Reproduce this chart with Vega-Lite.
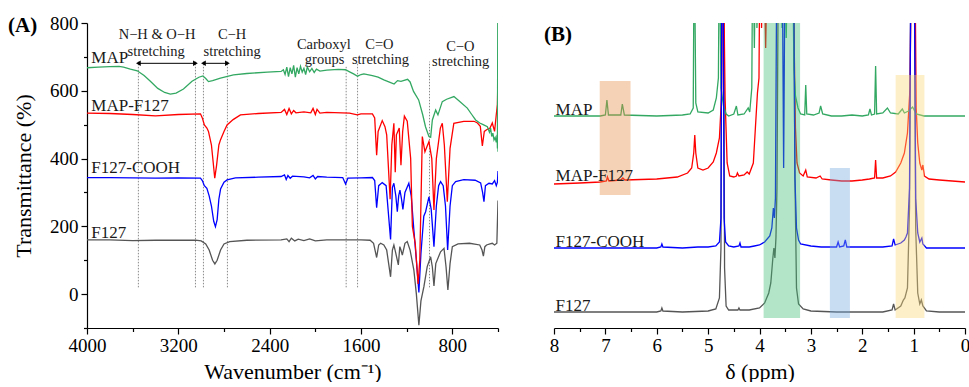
{
"$schema": "https://vega.github.io/schema/vega-lite/v6.json",
"background": "white",
"padding": {"left": 8, "top": 14, "right": 0, "bottom": 0},
"spacing": 45,
"config": {
  "font": "Liberation Serif",
  "view": {"stroke": null},
  "axis": {"domainColor": "black", "tickColor": "black", "labelColor": "black", "titleColor": "black", "labelFont": "Liberation Serif", "titleFont": "Liberation Serif", "titleFontWeight": "normal", "labelFontSize": 19, "titleFontSize": 22, "grid": false, "domainWidth": 1.2, "tickWidth": 1.2, "labelFlush": false, "labelOverlap": false},
  "title": {"font": "Liberation Serif", "color": "black"}
},
"datasets": {
  "vlines": [{"w": 3550, "t": 20, "t2": 686}, {"w": 3050, "t": 20, "t2": 686}, {"w": 2980, "t": 20, "t2": 686}, {"w": 2770, "t": 20, "t2": 686}, {"w": 1730, "t": 20, "t2": 672}, {"w": 1630, "t": 20, "t2": 682}, {"w": 1000, "t": 20, "t2": 686}],
  "arrows": [{"w": 3550, "w2": 3050, "t": 681}, {"w": 2980, "w2": 2770, "t": 681}],
  "labA": [{"label": "MAP", "w": 3962, "t": 681}, {"label": "MAP-F127", "w": 3962, "t": 540}, {"label": "F127-COOH", "w": 3962, "t": 357}, {"label": "F127", "w": 3962, "t": 167}],
  "annA": [
    {"label": "N−H & O−H", "w": 3386, "t": 752}, {"label": "stretching", "w": 3394, "t": 703},
    {"label": "C−H", "w": 2729, "t": 752}, {"label": "stretching", "w": 2729, "t": 703},
    {"label": "Carboxyl", "w": 1925, "t": 723}, {"label": "groups", "w": 1919, "t": 680},
    {"label": "C=O", "w": 1439, "t": 723}, {"label": "stretching", "w": 1429, "t": 680},
    {"label": "C−O", "w": 730, "t": 716}, {"label": "stretching", "w": 727, "t": 672}
  ],
  "specA": [
    {"s":"F127","w":4000,"t":160},{"s":"F127","w":3800,"t":160},{"s":"F127","w":3600,"t":158},{"s":"F127","w":3400,"t":159},{"s":"F127","w":3200,"t":159},{"s":"F127","w":3050,"t":159},{"s":"F127","w":3000,"t":157},{"s":"F127","w":2960,"t":148},{"s":"F127","w":2930,"t":130},{"s":"F127","w":2900,"t":100},{"s":"F127","w":2880,"t":89},{"s":"F127","w":2860,"t":100},{"s":"F127","w":2830,"t":130},{"s":"F127","w":2800,"t":148},{"s":"F127","w":2750,"t":155},{"s":"F127","w":2600,"t":159},{"s":"F127","w":2300,"t":160},{"s":"F127","w":2250,"t":163},{"s":"F127","w":2230,"t":155},{"s":"F127","w":2210,"t":165},{"s":"F127","w":2180,"t":157},{"s":"F127","w":2150,"t":162},{"s":"F127","w":2100,"t":158},{"s":"F127","w":2050,"t":163},{"s":"F127","w":2000,"t":157},{"s":"F127","w":1900,"t":160},{"s":"F127","w":1800,"t":160},{"s":"F127","w":1700,"t":160},{"s":"F127","w":1600,"t":160},{"s":"F127","w":1520,"t":159},{"s":"F127","w":1490,"t":150},{"s":"F127","w":1463,"t":108},{"s":"F127","w":1445,"t":145},{"s":"F127","w":1428,"t":150},{"s":"F127","w":1400,"t":145},{"s":"F127","w":1375,"t":130},{"s":"F127","w":1341,"t":51},{"s":"F127","w":1325,"t":130},{"s":"F127","w":1312,"t":145},{"s":"F127","w":1295,"t":120},{"s":"F127","w":1273,"t":86},{"s":"F127","w":1260,"t":140},{"s":"F127","w":1250,"t":130},{"s":"F127","w":1238,"t":115},{"s":"F127","w":1215,"t":150},{"s":"F127","w":1195,"t":155},{"s":"F127","w":1170,"t":130},{"s":"F127","w":1137,"t":71},{"s":"F127","w":1115,"t":0},{"s":"F127","w":1093,"t":-92},{"s":"F127","w":1075,"t":-20},{"s":"F127","w":1049,"t":22},{"s":"F127","w":1020,"t":81},{"s":"F127","w":990,"t":110},{"s":"F127","w":975,"t":80},{"s":"F127","w":961,"t":24},{"s":"F127","w":945,"t":90},{"s":"F127","w":903,"t":125},{"s":"F127","w":873,"t":135},{"s":"F127","w":855,"t":80},{"s":"F127","w":839,"t":12},{"s":"F127","w":820,"t":90},{"s":"F127","w":800,"t":140},{"s":"F127","w":750,"t":148},{"s":"F127","w":650,"t":150},{"s":"F127","w":560,"t":145},{"s":"F127","w":540,"t":130},{"s":"F127","w":528,"t":112},{"s":"F127","w":515,"t":140},{"s":"F127","w":500,"t":145},{"s":"F127","w":470,"t":148},{"s":"F127","w":450,"t":150},{"s":"F127","w":430,"t":145},{"s":"F127","w":410,"t":150},{"s":"F127","w":400,"t":276},
    {"s":"F127-COOH","w":4000,"t":344},{"s":"F127-COOH","w":3800,"t":344},{"s":"F127-COOH","w":3600,"t":343},{"s":"F127-COOH","w":3400,"t":342},{"s":"F127-COOH","w":3200,"t":343},{"s":"F127-COOH","w":3006,"t":342},{"s":"F127-COOH","w":2990,"t":335},{"s":"F127-COOH","w":2972,"t":320},{"s":"F127-COOH","w":2950,"t":312},{"s":"F127-COOH","w":2930,"t":290},{"s":"F127-COOH","w":2910,"t":260},{"s":"F127-COOH","w":2890,"t":215},{"s":"F127-COOH","w":2875,"t":199},{"s":"F127-COOH","w":2860,"t":220},{"s":"F127-COOH","w":2845,"t":280},{"s":"F127-COOH","w":2830,"t":310},{"s":"F127-COOH","w":2800,"t":330},{"s":"F127-COOH","w":2773,"t":337},{"s":"F127-COOH","w":2700,"t":343},{"s":"F127-COOH","w":2500,"t":345},{"s":"F127-COOH","w":2300,"t":347},{"s":"F127-COOH","w":2270,"t":352},{"s":"F127-COOH","w":2255,"t":338},{"s":"F127-COOH","w":2240,"t":350},{"s":"F127-COOH","w":2220,"t":342},{"s":"F127-COOH","w":2200,"t":348},{"s":"F127-COOH","w":2100,"t":346},{"s":"F127-COOH","w":2050,"t":343},{"s":"F127-COOH","w":2020,"t":350},{"s":"F127-COOH","w":2000,"t":340},{"s":"F127-COOH","w":1980,"t":347},{"s":"F127-COOH","w":1900,"t":345},{"s":"F127-COOH","w":1760,"t":344},{"s":"F127-COOH","w":1735,"t":325},{"s":"F127-COOH","w":1715,"t":342},{"s":"F127-COOH","w":1600,"t":343},{"s":"F127-COOH","w":1500,"t":344},{"s":"F127-COOH","w":1480,"t":335},{"s":"F127-COOH","w":1463,"t":255},{"s":"F127-COOH","w":1445,"t":320},{"s":"F127-COOH","w":1414,"t":329},{"s":"F127-COOH","w":1380,"t":320},{"s":"F127-COOH","w":1341,"t":161},{"s":"F127-COOH","w":1325,"t":315},{"s":"F127-COOH","w":1312,"t":327},{"s":"F127-COOH","w":1295,"t":290},{"s":"F127-COOH","w":1282,"t":243},{"s":"F127-COOH","w":1270,"t":290},{"s":"F127-COOH","w":1259,"t":307},{"s":"F127-COOH","w":1245,"t":280},{"s":"F127-COOH","w":1233,"t":250},{"s":"F127-COOH","w":1215,"t":300},{"s":"F127-COOH","w":1181,"t":327},{"s":"F127-COOH","w":1160,"t":290},{"s":"F127-COOH","w":1137,"t":189},{"s":"F127-COOH","w":1115,"t":100},{"s":"F127-COOH","w":1093,"t":5},{"s":"F127-COOH","w":1075,"t":120},{"s":"F127-COOH","w":1050,"t":230},{"s":"F127-COOH","w":1034,"t":243},{"s":"F127-COOH","w":1005,"t":287},{"s":"F127-COOH","w":985,"t":250},{"s":"F127-COOH","w":961,"t":140},{"s":"F127-COOH","w":940,"t":260},{"s":"F127-COOH","w":920,"t":320},{"s":"F127-COOH","w":903,"t":332},{"s":"F127-COOH","w":880,"t":320},{"s":"F127-COOH","w":860,"t":260},{"s":"F127-COOH","w":841,"t":130},{"s":"F127-COOH","w":820,"t":260},{"s":"F127-COOH","w":800,"t":320},{"s":"F127-COOH","w":771,"t":332},{"s":"F127-COOH","w":700,"t":338},{"s":"F127-COOH","w":600,"t":336},{"s":"F127-COOH","w":552,"t":328},{"s":"F127-COOH","w":535,"t":300},{"s":"F127-COOH","w":523,"t":273},{"s":"F127-COOH","w":510,"t":320},{"s":"F127-COOH","w":479,"t":327},{"s":"F127-COOH","w":450,"t":325},{"s":"F127-COOH","w":430,"t":335},{"s":"F127-COOH","w":415,"t":320},{"s":"F127-COOH","w":405,"t":330},{"s":"F127-COOH","w":400,"t":363},
    {"s":"MAP-F127","w":4000,"t":534},{"s":"MAP-F127","w":3800,"t":533},{"s":"MAP-F127","w":3600,"t":530},{"s":"MAP-F127","w":3400,"t":526},{"s":"MAP-F127","w":3200,"t":530},{"s":"MAP-F127","w":3006,"t":532},{"s":"MAP-F127","w":2990,"t":520},{"s":"MAP-F127","w":2972,"t":499},{"s":"MAP-F127","w":2950,"t":490},{"s":"MAP-F127","w":2936,"t":480},{"s":"MAP-F127","w":2910,"t":440},{"s":"MAP-F127","w":2895,"t":390},{"s":"MAP-F127","w":2881,"t":342},{"s":"MAP-F127","w":2865,"t":380},{"s":"MAP-F127","w":2845,"t":440},{"s":"MAP-F127","w":2831,"t":455},{"s":"MAP-F127","w":2800,"t":480},{"s":"MAP-F127","w":2773,"t":499},{"s":"MAP-F127","w":2720,"t":515},{"s":"MAP-F127","w":2656,"t":529},{"s":"MAP-F127","w":2500,"t":533},{"s":"MAP-F127","w":2300,"t":536},{"s":"MAP-F127","w":2270,"t":545},{"s":"MAP-F127","w":2250,"t":530},{"s":"MAP-F127","w":2230,"t":548},{"s":"MAP-F127","w":2210,"t":532},{"s":"MAP-F127","w":2190,"t":542},{"s":"MAP-F127","w":2170,"t":535},{"s":"MAP-F127","w":2100,"t":538},{"s":"MAP-F127","w":2040,"t":535},{"s":"MAP-F127","w":2020,"t":548},{"s":"MAP-F127","w":2000,"t":530},{"s":"MAP-F127","w":1985,"t":545},{"s":"MAP-F127","w":1960,"t":534},{"s":"MAP-F127","w":1900,"t":536},{"s":"MAP-F127","w":1700,"t":534},{"s":"MAP-F127","w":1633,"t":529},{"s":"MAP-F127","w":1600,"t":532},{"s":"MAP-F127","w":1500,"t":532},{"s":"MAP-F127","w":1480,"t":520},{"s":"MAP-F127","w":1463,"t":410},{"s":"MAP-F127","w":1450,"t":480},{"s":"MAP-F127","w":1414,"t":512},{"s":"MAP-F127","w":1390,"t":494},{"s":"MAP-F127","w":1375,"t":470},{"s":"MAP-F127","w":1345,"t":280},{"s":"MAP-F127","w":1330,"t":440},{"s":"MAP-F127","w":1312,"t":504},{"s":"MAP-F127","w":1300,"t":360},{"s":"MAP-F127","w":1290,"t":470},{"s":"MAP-F127","w":1265,"t":490},{"s":"MAP-F127","w":1250,"t":380},{"s":"MAP-F127","w":1235,"t":480},{"s":"MAP-F127","w":1220,"t":525},{"s":"MAP-F127","w":1195,"t":510},{"s":"MAP-F127","w":1165,"t":400},{"s":"MAP-F127","w":1150,"t":200},{"s":"MAP-F127","w":1125,"t":150},{"s":"MAP-F127","w":1100,"t":30},{"s":"MAP-F127","w":1085,"t":100},{"s":"MAP-F127","w":1063,"t":465},{"s":"MAP-F127","w":1040,"t":420},{"s":"MAP-F127","w":1005,"t":450},{"s":"MAP-F127","w":980,"t":400},{"s":"MAP-F127","w":961,"t":248},{"s":"MAP-F127","w":940,"t":400},{"s":"MAP-F127","w":905,"t":490},{"s":"MAP-F127","w":888,"t":504},{"s":"MAP-F127","w":870,"t":440},{"s":"MAP-F127","w":844,"t":273},{"s":"MAP-F127","w":820,"t":430},{"s":"MAP-F127","w":787,"t":504},{"s":"MAP-F127","w":700,"t":510},{"s":"MAP-F127","w":610,"t":510},{"s":"MAP-F127","w":580,"t":505},{"s":"MAP-F127","w":555,"t":495},{"s":"MAP-F127","w":537,"t":437},{"s":"MAP-F127","w":520,"t":480},{"s":"MAP-F127","w":500,"t":485},{"s":"MAP-F127","w":470,"t":490},{"s":"MAP-F127","w":450,"t":505},{"s":"MAP-F127","w":430,"t":480},{"s":"MAP-F127","w":415,"t":530},{"s":"MAP-F127","w":405,"t":560},{"s":"MAP-F127","w":400,"t":653},
    {"s":"MAP","w":4000,"t":668},{"s":"MAP","w":3900,"t":670},{"s":"MAP","w":3800,"t":671},{"s":"MAP","w":3720,"t":672},{"s":"MAP","w":3680,"t":670},{"s":"MAP","w":3620,"t":664},{"s":"MAP","w":3560,"t":659},{"s":"MAP","w":3500,"t":645},{"s":"MAP","w":3445,"t":628},{"s":"MAP","w":3380,"t":607},{"s":"MAP","w":3320,"t":595},{"s":"MAP","w":3270,"t":590},{"s":"MAP","w":3220,"t":593},{"s":"MAP","w":3155,"t":605},{"s":"MAP","w":3080,"t":628},{"s":"MAP","w":3020,"t":640},{"s":"MAP","w":2985,"t":644},{"s":"MAP","w":2960,"t":636},{"s":"MAP","w":2936,"t":627},{"s":"MAP","w":2900,"t":630},{"s":"MAP","w":2831,"t":637},{"s":"MAP","w":2717,"t":647},{"s":"MAP","w":2600,"t":651},{"s":"MAP","w":2420,"t":655},{"s":"MAP","w":2300,"t":657},{"s":"MAP","w":2280,"t":662},{"s":"MAP","w":2265,"t":648},{"s":"MAP","w":2250,"t":670},{"s":"MAP","w":2235,"t":642},{"s":"MAP","w":2220,"t":668},{"s":"MAP","w":2205,"t":650},{"s":"MAP","w":2190,"t":675},{"s":"MAP","w":2175,"t":640},{"s":"MAP","w":2160,"t":668},{"s":"MAP","w":2145,"t":650},{"s":"MAP","w":2130,"t":672},{"s":"MAP","w":2115,"t":655},{"s":"MAP","w":2100,"t":666},{"s":"MAP","w":2085,"t":648},{"s":"MAP","w":2070,"t":670},{"s":"MAP","w":2050,"t":656},{"s":"MAP","w":2030,"t":666},{"s":"MAP","w":2010,"t":654},{"s":"MAP","w":1990,"t":664},{"s":"MAP","w":1960,"t":658},{"s":"MAP","w":1900,"t":661},{"s":"MAP","w":1800,"t":663},{"s":"MAP","w":1735,"t":662},{"s":"MAP","w":1700,"t":656},{"s":"MAP","w":1665,"t":650},{"s":"MAP","w":1630,"t":643},{"s":"MAP","w":1600,"t":648},{"s":"MAP","w":1575,"t":650},{"s":"MAP","w":1500,"t":645},{"s":"MAP","w":1450,"t":640},{"s":"MAP","w":1400,"t":632},{"s":"MAP","w":1340,"t":624},{"s":"MAP","w":1310,"t":620},{"s":"MAP","w":1280,"t":630},{"s":"MAP","w":1250,"t":628},{"s":"MAP","w":1192,"t":634},{"s":"MAP","w":1170,"t":626},{"s":"MAP","w":1140,"t":598},{"s":"MAP","w":1095,"t":573},{"s":"MAP","w":1060,"t":530},{"s":"MAP","w":1035,"t":494},{"s":"MAP","w":1005,"t":465},{"s":"MAP","w":990,"t":463},{"s":"MAP","w":975,"t":514},{"s":"MAP","w":946,"t":543},{"s":"MAP","w":926,"t":529},{"s":"MAP","w":888,"t":568},{"s":"MAP","w":850,"t":575},{"s":"MAP","w":786,"t":583},{"s":"MAP","w":740,"t":570},{"s":"MAP","w":669,"t":549},{"s":"MAP","w":630,"t":530},{"s":"MAP","w":596,"t":514},{"s":"MAP","w":560,"t":505},{"s":"MAP","w":530,"t":500},{"s":"MAP","w":493,"t":494},{"s":"MAP","w":475,"t":478},{"s":"MAP","w":465,"t":490},{"s":"MAP","w":455,"t":465},{"s":"MAP","w":445,"t":475},{"s":"MAP","w":435,"t":455},{"s":"MAP","w":425,"t":462},{"s":"MAP","w":415,"t":448},{"s":"MAP","w":408,"t":470},{"s":"MAP","w":405,"t":430},{"s":"MAP","w":402,"t":800},{"s":"MAP","w":400,"t":420}
  ],
  "rectB": [
    {"c": "arom", "d": 7.11, "d2": 6.51, "v": 133, "v2": 247},
    {"c": "peo", "d": 3.92, "d2": 3.21, "v": 10, "v2": 310},
    {"c": "cooh", "d": 2.63, "d2": 2.24, "v": 10, "v2": 160},
    {"c": "ppo", "d": 1.35, "d2": 0.79, "v": 10, "v2": 253}
  ],
  "labB": [{"label": "MAP", "d": 7.97, "v": 213}, {"label": "MAP-F127", "d": 7.97, "v": 147}, {"label": "F127-COOH", "d": 7.97, "v": 81}, {"label": "F127", "d": 7.97, "v": 17}],
  "specB": [
    {"s":"F127","d":8.0,"v":16},{"s":"F127","d":7.0,"v":16},{"s":"F127","d":6.0,"v":16},{"s":"F127","d":5.92,"v":17},{"s":"F127","d":5.9,"v":20},{"s":"F127","d":5.88,"v":17},{"s":"F127","d":5.5,"v":16},{"s":"F127","d":5.0,"v":17},{"s":"F127","d":4.85,"v":19},{"s":"F127","d":4.78,"v":30},{"s":"F127","d":4.75,"v":80},{"s":"F127","d":4.73,"v":400},{"s":"F127","d":4.70,"v":400},{"s":"F127","d":4.68,"v":60},{"s":"F127","d":4.65,"v":22},{"s":"F127","d":4.6,"v":18},{"s":"F127","d":4.42,"v":18},{"s":"F127","d":4.4,"v":20},{"s":"F127","d":4.38,"v":18},{"s":"F127","d":4.2,"v":18},{"s":"F127","d":4.0,"v":20},{"s":"F127","d":3.9,"v":25},{"s":"F127","d":3.82,"v":35},{"s":"F127","d":3.78,"v":45},{"s":"F127","d":3.74,"v":70},{"s":"F127","d":3.72,"v":80},{"s":"F127","d":3.70,"v":70},{"s":"F127","d":3.68,"v":90},{"s":"F127","d":3.66,"v":140},{"s":"F127","d":3.63,"v":400},{"s":"F127","d":3.34,"v":400},{"s":"F127","d":3.31,"v":150},{"s":"F127","d":3.28,"v":40},{"s":"F127","d":3.24,"v":24},{"s":"F127","d":3.15,"v":19},{"s":"F127","d":3.0,"v":17},{"s":"F127","d":2.5,"v":16},{"s":"F127","d":2.0,"v":16},{"s":"F127","d":1.6,"v":16},{"s":"F127","d":1.42,"v":18},{"s":"F127","d":1.39,"v":24},{"s":"F127","d":1.36,"v":18},{"s":"F127","d":1.25,"v":22},{"s":"F127","d":1.2,"v":28},{"s":"F127","d":1.17,"v":30},{"s":"F127","d":1.12,"v":40},{"s":"F127","d":1.08,"v":120},{"s":"F127","d":1.05,"v":400},{"s":"F127","d":0.99,"v":400},{"s":"F127","d":0.96,"v":100},{"s":"F127","d":0.92,"v":35},{"s":"F127","d":0.88,"v":24},{"s":"F127","d":0.85,"v":28},{"s":"F127","d":0.82,"v":22},{"s":"F127","d":0.75,"v":17},{"s":"F127","d":0.5,"v":16},{"s":"F127","d":0.0,"v":16},
    {"s":"MAP-F127","d":8.0,"v":144},{"s":"MAP-F127","d":7.5,"v":145},{"s":"MAP-F127","d":7.1,"v":146},{"s":"MAP-F127","d":6.98,"v":147},{"s":"MAP-F127","d":6.96,"v":151},{"s":"MAP-F127","d":6.93,"v":147},{"s":"MAP-F127","d":6.7,"v":148},{"s":"MAP-F127","d":6.66,"v":150},{"s":"MAP-F127","d":6.62,"v":148},{"s":"MAP-F127","d":6.0,"v":149},{"s":"MAP-F127","d":5.6,"v":151},{"s":"MAP-F127","d":5.4,"v":155},{"s":"MAP-F127","d":5.32,"v":160},{"s":"MAP-F127","d":5.28,"v":175},{"s":"MAP-F127","d":5.26,"v":193},{"s":"MAP-F127","d":5.24,"v":175},{"s":"MAP-F127","d":5.2,"v":160},{"s":"MAP-F127","d":5.1,"v":158},{"s":"MAP-F127","d":5.0,"v":160},{"s":"MAP-F127","d":4.9,"v":166},{"s":"MAP-F127","d":4.84,"v":175},{"s":"MAP-F127","d":4.78,"v":190},{"s":"MAP-F127","d":4.74,"v":230},{"s":"MAP-F127","d":4.71,"v":400},{"s":"MAP-F127","d":4.67,"v":230},{"s":"MAP-F127","d":4.63,"v":165},{"s":"MAP-F127","d":4.58,"v":152},{"s":"MAP-F127","d":4.5,"v":151},{"s":"MAP-F127","d":4.45,"v":152},{"s":"MAP-F127","d":4.43,"v":155},{"s":"MAP-F127","d":4.4,"v":152},{"s":"MAP-F127","d":4.3,"v":153},{"s":"MAP-F127","d":4.24,"v":156},{"s":"MAP-F127","d":4.2,"v":154},{"s":"MAP-F127","d":4.12,"v":165},{"s":"MAP-F127","d":4.08,"v":200},{"s":"MAP-F127","d":4.04,"v":235},{"s":"MAP-F127","d":4.01,"v":250},{"s":"MAP-F127","d":3.99,"v":400},{"s":"MAP-F127","d":3.96,"v":300},{"s":"MAP-F127","d":3.92,"v":400},{"s":"MAP-F127","d":3.88,"v":280},{"s":"MAP-F127","d":3.84,"v":400},{"s":"MAP-F127","d":3.8,"v":320},{"s":"MAP-F127","d":3.75,"v":400},{"s":"MAP-F127","d":3.7,"v":350},{"s":"MAP-F127","d":3.65,"v":400},{"s":"MAP-F127","d":3.40,"v":400},{"s":"MAP-F127","d":3.38,"v":360},{"s":"MAP-F127","d":3.36,"v":400},{"s":"MAP-F127","d":3.33,"v":300},{"s":"MAP-F127","d":3.30,"v":200},{"s":"MAP-F127","d":3.27,"v":165},{"s":"MAP-F127","d":3.22,"v":155},{"s":"MAP-F127","d":3.15,"v":152},{"s":"MAP-F127","d":3.10,"v":158},{"s":"MAP-F127","d":3.07,"v":151},{"s":"MAP-F127","d":2.9,"v":150},{"s":"MAP-F127","d":2.82,"v":152},{"s":"MAP-F127","d":2.78,"v":149},{"s":"MAP-F127","d":2.6,"v":148},{"s":"MAP-F127","d":2.4,"v":147},{"s":"MAP-F127","d":2.2,"v":147},{"s":"MAP-F127","d":2.0,"v":148},{"s":"MAP-F127","d":1.86,"v":149},{"s":"MAP-F127","d":1.76,"v":150},{"s":"MAP-F127","d":1.74,"v":168},{"s":"MAP-F127","d":1.72,"v":150},{"s":"MAP-F127","d":1.6,"v":150},{"s":"MAP-F127","d":1.45,"v":152},{"s":"MAP-F127","d":1.35,"v":156},{"s":"MAP-F127","d":1.25,"v":165},{"s":"MAP-F127","d":1.18,"v":175},{"s":"MAP-F127","d":1.12,"v":195},{"s":"MAP-F127","d":1.07,"v":240},{"s":"MAP-F127","d":1.04,"v":400},{"s":"MAP-F127","d":0.98,"v":400},{"s":"MAP-F127","d":0.95,"v":220},{"s":"MAP-F127","d":0.92,"v":185},{"s":"MAP-F127","d":0.88,"v":165},{"s":"MAP-F127","d":0.84,"v":158},{"s":"MAP-F127","d":0.82,"v":163},{"s":"MAP-F127","d":0.79,"v":152},{"s":"MAP-F127","d":0.7,"v":149},{"s":"MAP-F127","d":0.5,"v":148},{"s":"MAP-F127","d":0.0,"v":146},
    {"s":"MAP","d":8.0,"v":212},{"s":"MAP","d":7.5,"v":212},{"s":"MAP","d":7.1,"v":212},{"s":"MAP","d":7.0,"v":213},{"s":"MAP","d":6.97,"v":228},{"s":"MAP","d":6.94,"v":213},{"s":"MAP","d":6.7,"v":213},{"s":"MAP","d":6.67,"v":224},{"s":"MAP","d":6.63,"v":213},{"s":"MAP","d":6.0,"v":212},{"s":"MAP","d":5.5,"v":213},{"s":"MAP","d":5.35,"v":214},{"s":"MAP","d":5.29,"v":220},{"s":"MAP","d":5.27,"v":400},{"s":"MAP","d":5.24,"v":225},{"s":"MAP","d":5.2,"v":216},{"s":"MAP","d":5.0,"v":215},{"s":"MAP","d":4.9,"v":218},{"s":"MAP","d":4.84,"v":230},{"s":"MAP","d":4.80,"v":250},{"s":"MAP","d":4.78,"v":400},{"s":"MAP","d":4.75,"v":240},{"s":"MAP","d":4.70,"v":222},{"s":"MAP","d":4.65,"v":214},{"s":"MAP","d":4.6,"v":212},{"s":"MAP","d":4.5,"v":214},{"s":"MAP","d":4.45,"v":222},{"s":"MAP","d":4.42,"v":213},{"s":"MAP","d":4.3,"v":214},{"s":"MAP","d":4.22,"v":220},{"s":"MAP","d":4.19,"v":216},{"s":"MAP","d":4.15,"v":240},{"s":"MAP","d":4.13,"v":400},{"s":"MAP","d":4.10,"v":280},{"s":"MAP","d":4.07,"v":400},{"s":"MAP","d":4.05,"v":300},{"s":"MAP","d":4.0,"v":400},{"s":"MAP","d":3.97,"v":320},{"s":"MAP","d":3.93,"v":400},{"s":"MAP","d":3.9,"v":330},{"s":"MAP","d":3.87,"v":400},{"s":"MAP","d":3.84,"v":310},{"s":"MAP","d":3.8,"v":400},{"s":"MAP","d":3.77,"v":330},{"s":"MAP","d":3.74,"v":400},{"s":"MAP","d":3.7,"v":340},{"s":"MAP","d":3.67,"v":400},{"s":"MAP","d":3.63,"v":320},{"s":"MAP","d":3.6,"v":400},{"s":"MAP","d":3.56,"v":300},{"s":"MAP","d":3.52,"v":400},{"s":"MAP","d":3.48,"v":290},{"s":"MAP","d":3.44,"v":400},{"s":"MAP","d":3.40,"v":320},{"s":"MAP","d":3.36,"v":400},{"s":"MAP","d":3.33,"v":260},{"s":"MAP","d":3.30,"v":232},{"s":"MAP","d":3.25,"v":220},{"s":"MAP","d":3.2,"v":214},{"s":"MAP","d":3.12,"v":213},{"s":"MAP","d":3.10,"v":243},{"s":"MAP","d":3.08,"v":214},{"s":"MAP","d":2.95,"v":213},{"s":"MAP","d":2.84,"v":215},{"s":"MAP","d":2.81,"v":222},{"s":"MAP","d":2.77,"v":214},{"s":"MAP","d":2.6,"v":212},{"s":"MAP","d":2.4,"v":212},{"s":"MAP","d":2.2,"v":213},{"s":"MAP","d":2.0,"v":212},{"s":"MAP","d":1.88,"v":213},{"s":"MAP","d":1.85,"v":219},{"s":"MAP","d":1.82,"v":213},{"s":"MAP","d":1.76,"v":214},{"s":"MAP","d":1.74,"v":262},{"s":"MAP","d":1.72,"v":214},{"s":"MAP","d":1.6,"v":215},{"s":"MAP","d":1.51,"v":220},{"s":"MAP","d":1.45,"v":215},{"s":"MAP","d":1.3,"v":214},{"s":"MAP","d":1.22,"v":219},{"s":"MAP","d":1.18,"v":215},{"s":"MAP","d":1.1,"v":217},{"s":"MAP","d":1.02,"v":221},{"s":"MAP","d":0.95,"v":214},{"s":"MAP","d":0.8,"v":212},{"s":"MAP","d":0.5,"v":212},{"s":"MAP","d":0.0,"v":212},
    {"s":"F127-COOH","d":8.0,"v":80},{"s":"F127-COOH","d":7.0,"v":80},{"s":"F127-COOH","d":6.0,"v":80},{"s":"F127-COOH","d":5.92,"v":81},{"s":"F127-COOH","d":5.9,"v":84},{"s":"F127-COOH","d":5.88,"v":81},{"s":"F127-COOH","d":5.5,"v":80},{"s":"F127-COOH","d":5.2,"v":81},{"s":"F127-COOH","d":5.0,"v":81},{"s":"F127-COOH","d":4.85,"v":82},{"s":"F127-COOH","d":4.78,"v":86},{"s":"F127-COOH","d":4.75,"v":110},{"s":"F127-COOH","d":4.73,"v":400},{"s":"F127-COOH","d":4.71,"v":400},{"s":"F127-COOH","d":4.69,"v":110},{"s":"F127-COOH","d":4.66,"v":86},{"s":"F127-COOH","d":4.6,"v":82},{"s":"F127-COOH","d":4.5,"v":81},{"s":"F127-COOH","d":4.4,"v":82},{"s":"F127-COOH","d":4.38,"v":85},{"s":"F127-COOH","d":4.36,"v":81},{"s":"F127-COOH","d":4.2,"v":81},{"s":"F127-COOH","d":4.1,"v":82},{"s":"F127-COOH","d":4.0,"v":83},{"s":"F127-COOH","d":3.9,"v":86},{"s":"F127-COOH","d":3.8,"v":92},{"s":"F127-COOH","d":3.76,"v":100},{"s":"F127-COOH","d":3.73,"v":120},{"s":"F127-COOH","d":3.71,"v":110},{"s":"F127-COOH","d":3.69,"v":130},{"s":"F127-COOH","d":3.66,"v":400},{"s":"F127-COOH","d":3.56,"v":400},{"s":"F127-COOH","d":3.53,"v":160},{"s":"F127-COOH","d":3.50,"v":400},{"s":"F127-COOH","d":3.34,"v":400},{"s":"F127-COOH","d":3.31,"v":150},{"s":"F127-COOH","d":3.28,"v":100},{"s":"F127-COOH","d":3.24,"v":88},{"s":"F127-COOH","d":3.2,"v":84},{"s":"F127-COOH","d":3.0,"v":82},{"s":"F127-COOH","d":2.8,"v":81},{"s":"F127-COOH","d":2.5,"v":81},{"s":"F127-COOH","d":2.47,"v":86},{"s":"F127-COOH","d":2.44,"v":81},{"s":"F127-COOH","d":2.36,"v":82},{"s":"F127-COOH","d":2.33,"v":88},{"s":"F127-COOH","d":2.30,"v":81},{"s":"F127-COOH","d":2.0,"v":81},{"s":"F127-COOH","d":1.6,"v":81},{"s":"F127-COOH","d":1.42,"v":82},{"s":"F127-COOH","d":1.39,"v":89},{"s":"F127-COOH","d":1.36,"v":83},{"s":"F127-COOH","d":1.25,"v":85},{"s":"F127-COOH","d":1.18,"v":88},{"s":"F127-COOH","d":1.15,"v":91},{"s":"F127-COOH","d":1.12,"v":95},{"s":"F127-COOH","d":1.08,"v":140},{"s":"F127-COOH","d":1.05,"v":400},{"s":"F127-COOH","d":0.99,"v":400},{"s":"F127-COOH","d":0.96,"v":130},{"s":"F127-COOH","d":0.92,"v":95},{"s":"F127-COOH","d":0.88,"v":86},{"s":"F127-COOH","d":0.84,"v":90},{"s":"F127-COOH","d":0.82,"v":84},{"s":"F127-COOH","d":0.75,"v":80},{"s":"F127-COOH","d":0.5,"v":80},{"s":"F127-COOH","d":0.0,"v":80}
  ]
},
"hconcat": [
  {
    "width": 411, "height": 305,
    "title": {"text": "(A)", "anchor": "start", "frame": "group", "fontSize": 21, "fontWeight": "bold", "baseline": "middle", "offset": 0, "dx": -79, "dy": 33},
    "encoding": {
      "x": {"field": "w", "type": "quantitative", "scale": {"domain": [400, 4000], "reverse": true, "nice": false, "zero": false},
        "axis": {"title": "Wavenumber (cm⁻¹)", "values": [4000, 3600, 3200, 2800, 2400, 2000, 1600, 1200, 800, 400], "format": "d", "labelExpr": "datum.value % 800 === 0 ? datum.label : ''", "tickSize": {"condition": {"test": "datum.value % 800 === 0", "value": 6}, "value": 3.5}, "labelPadding": 2, "titlePadding": 6}},
      "y": {"field": "t", "type": "quantitative", "scale": {"domain": [-100, 800], "nice": false, "zero": false},
        "axis": {"title": "Transmittance (%)", "values": [-100, 0, 100, 200, 300, 400, 500, 600, 700, 800], "format": "d", "labelExpr": "datum.value % 200 === 0 ? datum.label : ''", "tickSize": {"condition": {"test": "datum.value % 200 === 0", "value": 6}, "value": 3.5}, "labelPadding": 3, "titlePadding": 14}}
    },
    "layer": [
      {"data": {"name": "vlines"}, "mark": {"type": "rule", "color": "#8a8a8a", "strokeDash": [1.5, 1.5], "strokeWidth": 1},
       "encoding": {"y2": {"field": "t2"}}},
      {"data": {"name": "specA"}, "mark": {"type": "line", "strokeWidth": 1.3, "clip": true},
       "encoding": {"color": {"field": "s", "type": "nominal", "scale": {"domain": ["MAP", "MAP-F127", "F127-COOH", "F127"], "range": ["#33a862", "#ff0000", "#0000ff", "#555555"]}, "legend": null}}},
      {"data": {"name": "arrows"}, "mark": {"type": "rule", "color": "black", "strokeWidth": 1},
       "encoding": {"x2": {"field": "w2"}}},
      {"data": {"name": "arrows"}, "mark": {"type": "point", "shape": "triangle-left", "filled": true, "color": "black", "size": 30, "opacity": 1},
       "encoding": {}},
      {"data": {"name": "arrows"}, "mark": {"type": "point", "shape": "triangle-right", "filled": true, "color": "black", "size": 30, "opacity": 1},
       "encoding": {"x": {"field": "w2", "type": "quantitative"}}},
      {"data": {"name": "labA"}, "mark": {"type": "text", "align": "left", "baseline": "alphabetic", "fontSize": 17, "font": "Liberation Serif", "color": "#1a1a1a"},
       "encoding": {"text": {"field": "label"}}},
      {"data": {"name": "annA"}, "mark": {"type": "text", "align": "center", "baseline": "alphabetic", "fontSize": 14.5, "font": "Liberation Serif", "color": "#1a1a1a"},
       "encoding": {"text": {"field": "label"}}}
    ]
  },
  {
    "width": 411, "height": 305,
    "title": {"text": "(B)", "anchor": "start", "frame": "group", "fontSize": 21, "fontWeight": "bold", "baseline": "middle", "offset": 0, "dx": -10, "dy": 33},
    "encoding": {
      "x": {"field": "d", "type": "quantitative", "scale": {"domain": [0, 8], "reverse": true, "nice": false, "zero": false},
        "axis": {"title": "δ (ppm)", "values": [0, 0.5, 1, 1.5, 2, 2.5, 3, 3.5, 4, 4.5, 5, 5.5, 6, 6.5, 7, 7.5, 8], "format": ".0f", "labelExpr": "datum.value % 1 === 0 ? datum.label : ''", "tickSize": {"condition": {"test": "datum.value % 1 === 0", "value": 6}, "value": 3.5}, "labelPadding": 2, "titlePadding": 6}},
      "y": {"field": "v", "type": "quantitative", "scale": {"domain": [0, 305], "nice": false, "zero": false}, "axis": null}
    },
    "layer": [
      {"data": {"name": "specB"}, "mark": {"type": "line", "strokeWidth": 1.3, "clip": true},
       "encoding": {"color": {"field": "s", "type": "nominal", "scale": {"domain": ["MAP", "MAP-F127", "F127-COOH", "F127"], "range": ["#33a862", "#ff0000", "#0000ff", "#555555"]}, "legend": null}}},
      {"data": {"name": "rectB"}, "mark": {"type": "rect", "opacity": 0.4, "clip": true},
       "encoding": {"x2": {"field": "d2"}, "y2": {"field": "v2"}, "fill": {"field": "c", "type": "nominal", "scale": {"domain": ["arom", "peo", "cooh", "ppo"], "range": ["#e68e46", "#41c075", "#75a7de", "#fad775"]}, "legend": null}}},
      {"data": {"name": "labB"}, "mark": {"type": "text", "align": "left", "baseline": "alphabetic", "fontSize": 17, "font": "Liberation Serif", "color": "#1a1a1a"},
       "encoding": {"text": {"field": "label"}}}
    ],
    "resolve": {"scale": {"color": "independent", "fill": "independent"}}
  }
]
}
